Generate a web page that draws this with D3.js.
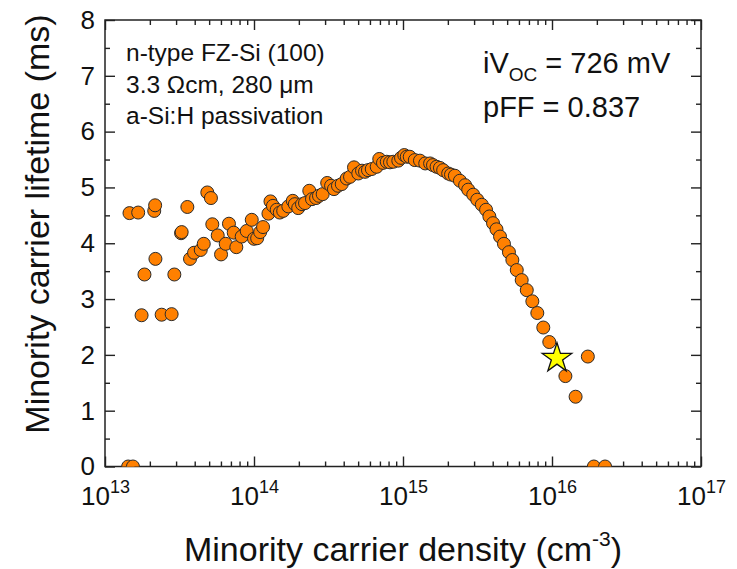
<!DOCTYPE html>
<html>
<head>
  <meta charset="utf-8" />
  <title>Minority carrier lifetime</title>
  <script src="https://cdnjs.cloudflare.com/ajax/libs/d3/7.8.5/d3.min.js"></script>
  <style>
    body { margin: 0; background: #fff; }
    svg { font-family: Arial, "Liberation Sans", sans-serif; }
    .axis path, .axis line { stroke: #222; stroke-width: 1.4; }
    .axis text { fill: #111; }
  </style>
</head>
<body>
  <svg width="737" height="569"></svg>
  <script>
    // values (cm^-3, ms)
    let density = [
      1.43e13, 1.46e13, 1.54e13, 1.67e13, 1.76e13, 1.84e13, 2.14e13, 2.17e13, 2.18e13, 2.40e13,
      2.80e13, 2.92e13, 3.24e13, 3.27e13, 3.57e13, 3.72e13, 3.96e13, 4.39e13, 4.60e13, 4.86e13,
      5.14e13, 5.25e13, 5.71e13, 6.01e13, 6.46e13, 6.79e13, 7.31e13, 7.61e13, 8.27e13, 8.93e13,
      9.66e13, 1.00e14, 1.05e14, 1.10e14, 1.15e14, 1.25e14, 1.29e14, 1.34e14, 1.42e14, 1.49e14,
      1.57e14, 1.70e14, 1.82e14, 1.88e14, 1.98e14, 2.10e14, 2.20e14, 2.35e14, 2.45e14, 2.61e14,
      2.73e14, 2.89e14, 3.10e14, 3.29e14, 3.44e14, 3.66e14, 3.88e14, 4.19e14, 4.41e14, 4.69e14,
      5.01e14, 5.31e14, 5.56e14, 5.82e14, 6.17e14, 6.66e14, 6.93e14, 7.34e14, 7.78e14, 8.18e14,
      8.61e14, 9.30e14, 9.70e14, 1.02e15, 1.06e15, 1.11e15, 1.20e15, 1.30e15, 1.41e15, 1.52e15,
      1.59e15, 1.68e15, 1.77e15, 1.86e15, 2.01e15, 2.10e15, 2.23e15, 2.41e15, 2.61e15, 2.74e15,
      2.96e15, 3.15e15, 3.38e15, 3.61e15, 3.80e15, 4.02e15, 4.24e15, 4.48e15, 4.76e15, 5.14e15,
      5.42e15, 5.80e15, 6.26e15, 6.77e15, 7.38e15, 7.97e15, 8.74e15, 9.59e15, 1.23e16, 1.44e16,
      1.74e16, 1.91e16, 2.27e16
    ]
    let lifetime = [
      0, 4.54, 0, 4.55, 2.71, 3.44, 4.58, 4.68, 3.72, 2.72,
      2.73, 3.44, 4.18, 4.20, 4.65, 3.72, 3.83, 3.88, 3.99, 4.91,
      4.81, 4.34, 4.14, 3.80, 3.99, 4.35, 4.19, 3.93, 4.12, 4.22,
      4.42, 4.08, 4.09, 4.20, 4.29, 4.53, 4.75, 4.67, 4.60, 4.55,
      4.58, 4.66, 4.76, 4.70, 4.63, 4.70, 4.72, 4.94, 4.79, 4.81,
      4.85, 4.88, 5.08, 5.03, 4.97, 5.03, 5.06, 5.16, 5.19, 5.36,
      5.25, 5.30, 5.28, 5.31, 5.33, 5.37, 5.51, 5.44, 5.46, 5.45,
      5.46, 5.48, 5.53, 5.58, 5.55, 5.55, 5.49, 5.48, 5.43, 5.43,
      5.40, 5.37, 5.35, 5.31, 5.25, 5.23, 5.21, 5.12, 5.04, 4.96,
      4.87, 4.78, 4.69, 4.60, 4.48, 4.36, 4.25, 4.12, 3.99, 3.84,
      3.70, 3.52, 3.34, 3.16, 2.96, 2.75, 2.49, 2.23, 1.62, 1.25,
      1.97, 0, 0
    ]
    let starDensity = [1.08e16]
    let starLifetime = [1.94]

    let xTickExps = [13, 14, 15, 16, 17]
    let yTicks = [0, 1, 2, 3, 4, 5, 6, 7, 8]
    let noteLines = ['n-type FZ-Si (100)', '3.3 \u03A9cm, 280 \u03BCm', 'a-Si:H passivation']

    let x0 = 105, x1 = 701, y0 = 466.5, y1 = 20

    let xScale = d3.scaleLog().domain([1e13, 1e17]).range([x0, x1])
    let yScale = d3.scaleLinear().domain([0, 8]).range([y0, y1])

    let svg = d3.select('svg')

    svg.append('clipPath').attr('id', 'plotclip')
      .append('rect').attr('x', x0).attr('y', y1).attr('width', x1 - x0).attr('height', y0 - y1)

    // minor tick values
    let xMinor = []
    for (let e = 13; e < 17; e++) {
      for (let m = 2; m <= 9; m++) xMinor.push(m * Math.pow(10, e))
    }
    let yMinor = yTicks.slice(0, -1).map(function(d) { return d + 0.5 })
    let xMajor = xTickExps.map(function(e) { return Math.pow(10, e) })

    function addAxis(axis, tx, ty) {
      return svg.append('g').attr('class', 'axis')
        .attr('transform', 'translate(' + tx + ',' + ty + ')')
        .call(axis)
        .call(function(g) { g.select('.domain').remove() })
    }

    // bottom / top
    let bottomAxis = addAxis(d3.axisBottom(xScale).tickValues(xMajor).tickSize(-10).tickFormat(''), 0, y0)
    addAxis(d3.axisBottom(xScale).tickValues(xMinor).tickSize(-5).tickFormat(''), 0, y0)
    addAxis(d3.axisTop(xScale).tickValues(xMajor).tickSize(-10).tickFormat(''), 0, y1)
    addAxis(d3.axisTop(xScale).tickValues(xMinor).tickSize(-5).tickFormat(''), 0, y1)

    // left / right
    let leftAxis = addAxis(d3.axisLeft(yScale).tickValues(yTicks).tickSize(-10).tickPadding(10).tickFormat(d3.format('d')), x0, 0)
    addAxis(d3.axisLeft(yScale).tickValues(yMinor).tickSize(-5).tickFormat(''), x0, 0)
    addAxis(d3.axisRight(yScale).tickValues(yTicks).tickSize(-10).tickFormat(''), x1, 0)
    addAxis(d3.axisRight(yScale).tickValues(yMinor).tickSize(-5).tickFormat(''), x1, 0)

    leftAxis.selectAll('text').attr('font-size', 26).attr('font-family', 'Arial, "Liberation Sans", sans-serif')

    // 10^n labels
    bottomAxis.selectAll('.tick').each(function(d) {
      let t = d3.select(this).append('text')
        .attr('y', 38)
        .attr('text-anchor', 'middle')
        .attr('fill', '#111')
        .attr('font-family', 'Arial, "Liberation Sans", sans-serif')
        .attr('font-size', 26)
      t.append('tspan').text('10')
      t.append('tspan').attr('font-size', 18).attr('dy', -12).text(Math.round(Math.log10(d)))
    })

    // frame
    svg.append('rect')
      .attr('x', x0).attr('y', y1)
      .attr('width', x1 - x0).attr('height', y0 - y1)
      .attr('fill', 'none').attr('stroke', '#222').attr('stroke-width', 1.5)

    // data
    let plot = svg.append('g').attr('clip-path', 'url(#plotclip)')
    plot.selectAll('circle')
      .data(d3.range(density.length))
      .enter()
      .append('circle')
      .attr('cx', function(i) { return xScale(density[i]) })
      .attr('cy', function(i) { return yScale(lifetime[i]) })
      .attr('r', 6.5)
      .attr('fill', '#FF8000')
      .attr('stroke', '#2a2a2a')
      .attr('stroke-width', 1)

    plot.selectAll('path.star')
      .data(d3.range(starDensity.length))
      .enter()
      .append('path')
      .attr('class', 'star')
      .attr('d', d3.symbol().type(d3.symbolStar).size(270))
      .attr('transform', function(i) { return 'translate(' + xScale(starDensity[i]) + ',' + yScale(starLifetime[i]) + ')' })
      .attr('fill', '#FFFF00')
      .attr('stroke', '#111')
      .attr('stroke-width', 1.3)

    // notes
    svg.append('g').selectAll('text')
      .data(noteLines)
      .enter()
      .append('text')
      .attr('x', 126)
      .attr('y', function(d, i) { return 61 + i * 31.5 })
      .attr('font-size', 24.5)
      .attr('fill', '#111')
      .text(function(d) { return d })

    let voc = svg.append('text').attr('x', 483).attr('y', 73).attr('font-size', 29).attr('fill', '#111')
    voc.append('tspan').text('iV')
    voc.append('tspan').attr('font-size', 19).attr('dy', 8).text('OC')
    voc.append('tspan').attr('dy', -8).text(' = 726 mV')

    svg.append('text').attr('x', 483).attr('y', 117).attr('font-size', 29).attr('fill', '#111')
      .text('pFF = 0.837')

    // axis titles
    let xt = svg.append('text')
      .attr('x', (x0 + x1) / 2)
      .attr('y', 561)
      .attr('text-anchor', 'middle')
      .attr('font-size', 34)
      .attr('fill', '#111')
    xt.append('tspan').text('Minority carrier density (cm')
    xt.append('tspan').attr('font-size', 21).attr('dy', -15).text('-3')
    xt.append('tspan').attr('dy', 15).text(')')

    svg.append('text')
      .attr('transform', 'translate(49,224) rotate(-90)')
      .attr('text-anchor', 'middle')
      .attr('font-size', 34)
      .attr('fill', '#111')
      .text('Minority carrier lifetime (ms)')
  </script>
</body>
</html>
